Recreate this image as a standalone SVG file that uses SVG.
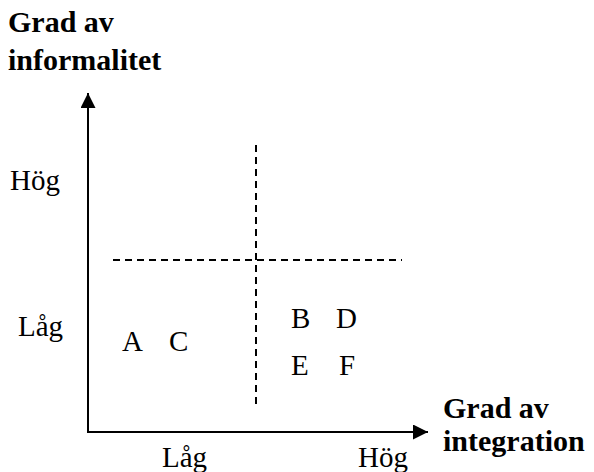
<svg xmlns="http://www.w3.org/2000/svg" width="594" height="472" viewBox="0 0 594 472">
  <style>
    .lbl { font-family: "Liberation Serif", "DejaVu Serif", serif; font-size: 29px; fill: #000; }
    .bold { font-weight: bold; font-size: 30px; }
    .axis { stroke: #000; stroke-width: 2; fill: none; }
    .dash { stroke: #000; stroke-width: 2; stroke-dasharray: 7 5; fill: none; }
  </style>
  <defs>
    <marker id="arrow" viewBox="0 0 10 10" refX="10" refY="5" markerWidth="7.5" markerHeight="7.5" markerUnits="strokeWidth" orient="auto">
      <path d="M0,0 L10,5 L0,10 Z" fill="#000"/>
    </marker>
  </defs>
  <rect width="594" height="472" fill="#fff"/>

  <g id="connectors">
    <line class="axis" x1="88" y1="433" x2="88" y2="93" marker-end="url(#arrow)"/>
    <line class="axis" x1="87" y1="432" x2="428" y2="432" marker-end="url(#arrow)"/>
    <line class="dash" x1="256" y1="145" x2="256" y2="406"/>
    <line class="dash" x1="113" y1="260" x2="402" y2="260"/>
  </g>

  <g id="y-axis-title">
    <text class="lbl bold" x="8" y="32">Grad av</text>
    <text class="lbl bold" x="8" y="70">informalitet</text>
  </g>
  <g id="x-axis-title">
    <text class="lbl bold" x="443" y="418">Grad av</text>
    <text class="lbl bold" x="443" y="451">integration</text>
  </g>

  <g id="y-high"><text class="lbl" x="10" y="190">Hög</text></g>
  <g id="y-low"><text class="lbl" x="18" y="336">Låg</text></g>
  <g id="x-low"><text class="lbl" x="162" y="467">Låg</text></g>
  <g id="x-high"><text class="lbl" x="358" y="467">Hög</text></g>

  <g id="group-AC">
    <text class="lbl" x="122" y="351">A</text>
    <text class="lbl" x="169" y="351">C</text>
  </g>
  <g id="group-BD">
    <text class="lbl" x="291" y="328">B</text>
    <text class="lbl" x="336" y="328">D</text>
  </g>
  <g id="group-EF">
    <text class="lbl" x="291" y="375">E</text>
    <text class="lbl" x="339" y="375">F</text>
  </g>
</svg>
